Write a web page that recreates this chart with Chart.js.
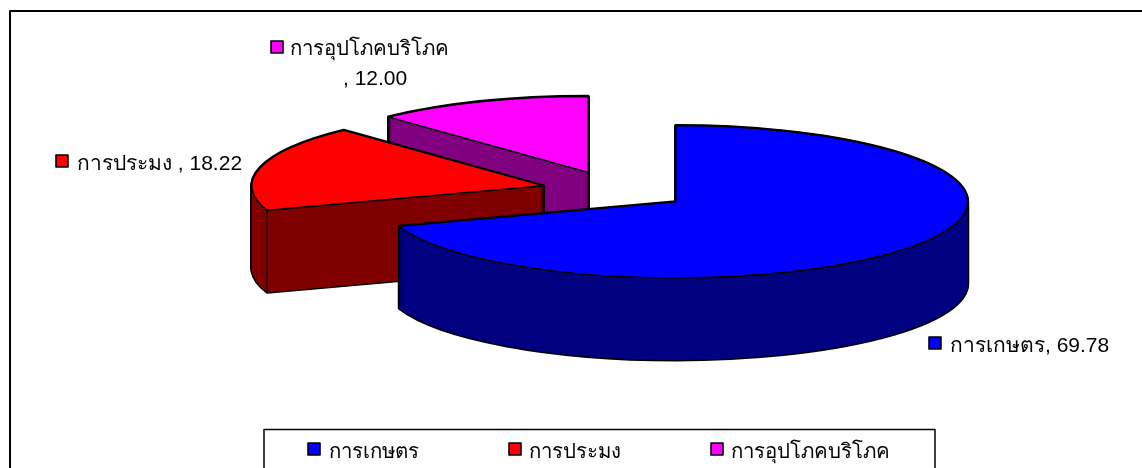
<!DOCTYPE html>
<html><head><meta charset="utf-8">
<script src="https://cdn.jsdelivr.net/npm/chart.js@4"></script>
<style>html,body{margin:0;padding:0;background:#fff;overflow:hidden}canvas{display:block}</style>
</head><body><canvas id="c" width="1142" height="468"></canvas>
<script>
const categories = ['การเกษตร', 'การประมง', 'การอุปโภคบริโภค'];
const seriesValues = [69.78, 18.22, 12.00];
const sliceColors = ['#0000ff', '#ff0000', '#ff00ff'];
const wallColors = ['#000080', '#800000', '#800080'];
const fontOf = s => s + 'px "Liberation Sans", Arial, sans-serif';
const TILT = 0.261, DEPTH = 82, EXPLODE = 74;

function slicePath(ctx, el, dx, dy) {
  ctx.beginPath();
  ctx.save();
  ctx.translate(el.x + dx, el.y + dy);
  ctx.scale(1, TILT);
  ctx.moveTo(0, 0);
  ctx.arc(0, 0, el.outerRadius, el.startAngle, el.endAngle);
  ctx.closePath();
  ctx.restore();
}
const pie3d = {
  id: 'pie3d',
  beforeDatasetsDraw(chart) {
    const ctx = chart.ctx;
    const arcs = chart.getDatasetMeta(0).data;
    const order = [2, 1, 0];
    for (const i of order) {
      const el = arcs[i];
      const mid = (el.startAngle + el.endAngle) / 2;
      const dx = Math.cos(mid) * EXPLODE, dy = Math.sin(mid) * EXPLODE * TILT;
      ctx.lineJoin = 'round';
      ctx.strokeStyle = '#000'; ctx.lineWidth = 3;
      for (let d = DEPTH; d >= 0; d--) { slicePath(ctx, el, dx, dy + d); ctx.stroke(); }
      ctx.fillStyle = wallColors[i];
      for (let d = DEPTH; d >= 0; d--) { slicePath(ctx, el, dx, dy + d); ctx.fill(); }
      if (i > 0) {
        const ax = el.x + dx, ay = el.y + dy;
        const rx = ax + Math.cos(el.startAngle) * el.outerRadius;
        const ry = ay + Math.sin(el.startAngle) * el.outerRadius * TILT;
        ctx.lineWidth = 1.5;
        ctx.beginPath();
        ctx.moveTo(rx, ry); ctx.lineTo(rx, ry + DEPTH);
        ctx.moveTo(ax, ay); ctx.lineTo(ax, ay + DEPTH);
        ctx.stroke();
      }
      slicePath(ctx, el, dx, dy);
      ctx.fillStyle = sliceColors[i]; ctx.fill();
      ctx.lineWidth = 1.6; ctx.stroke();
    }
    return false;
  },
  afterDraw(chart) {
    const ctx = chart.ctx;
    ctx.save();
    ctx.strokeStyle = '#000'; ctx.lineWidth = 2;
    ctx.beginPath();
    ctx.moveTo(10, 468); ctx.lineTo(10, 11); ctx.lineTo(1142, 11);
    ctx.stroke();
    ctx.lineWidth = 1.5;
    ctx.beginPath();
    ctx.moveTo(264, 468); ctx.lineTo(264, 429.5); ctx.lineTo(935, 429.5); ctx.lineTo(935, 468);
    ctx.stroke();
    ctx.textBaseline = 'alphabetic'; ctx.fillStyle = '#000';
    const box = (x, y, i) => {
      ctx.fillStyle = sliceColors[i]; ctx.fillRect(x + 1, y + 1, 12, 12);
      ctx.strokeStyle = '#000'; ctx.lineWidth = 1.6; ctx.strokeRect(x + 1, y + 1, 12, 12);
      ctx.fillStyle = '#000';
    };
    ctx.font = fontOf(20.4);
    const lx = [307, 508, 710];
    const tx = [329, 529, 731];
    categories.forEach((c, i) => { box(lx[i], 442, i); ctx.fillText(c, tx[i], 458); });
    ctx.fillText(categories[2], 290, 55);
    box(270, 40, 2);
    ctx.font = fontOf(21);
    box(928, 336, 0); ctx.fillText(categories[0] + ', ' + seriesValues[0].toFixed(2), 950, 352);
    box(55, 154, 1); ctx.fillText(categories[1] + ' , ' + seriesValues[1].toFixed(2), 77, 170);
    ctx.fillText(', ' + seriesValues[2].toFixed(2), 343, 85);
    ctx.restore();
  }
};
new Chart(document.getElementById('c'), {
  type: 'pie',
  data: { labels: categories, datasets: [{ data: seriesValues, backgroundColor: sliceColors, borderColor: '#000', radius: 292 }] },
  options: {
    responsive: false, animation: false,
    layout: { padding: { left: 89, bottom: 87 } },
    plugins: { legend: { display: false }, tooltip: { enabled: false } }
  },
  plugins: [pie3d]
});
</script></body></html>
